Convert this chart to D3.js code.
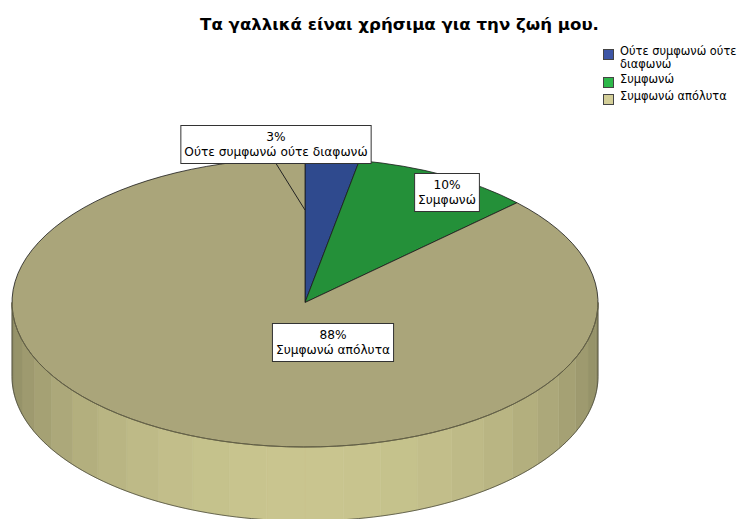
<!DOCTYPE html>
<html>
<head>
<meta charset="utf-8">
<script src="https://cdn.jsdelivr.net/npm/d3@7"></script>
<style>
  body { margin: 0; background: #fff; }
  svg { display: block; }
  text { font-family: "DejaVu Sans", Verdana, sans-serif; fill: #000; }
</style>
</head>
<body>
<svg id="chart" width="749" height="519"></svg>
<script>
// ---- data ----
const chartTitle = "Τα γαλλικά είναι χρήσιμα για την ζωή μου.";
const categories = ["Ούτε συμφωνώ ούτε διαφωνώ", "Συμφωνώ", "Συμφωνώ απόλυτα"];
const values = [3, 10, 88];
const valueLabels = ["3%", "10%", "88%"];
const legendLines = [["Ούτε συμφωνώ ούτε", "διαφωνώ"], ["Συμφωνώ"], ["Συμφωνώ απόλυτα"]];

// ---- styling ----
const legendColors = ["#3d55a5", "#2db84a", "#d3ce98"];
const topColors = ["#2f4a8e", "#249039", "#aaa57a"];
const sideDark = ["#24386c", "#1b6a2b", "#8c8962"];
const sideLight = ["#3b5aa8", "#2fae4a", "#c9c58f"];

const W = 749, H = 519;
const cx = 305, cy = 302.5, rx = 293, ry = 144.5, depth = 74;

// label boxes placed relative to the pie centre
const labelOffset = [[-29, -158], [142, -110], [28, 40]];
const leaderFraction = 0.64;

const svg = d3.select("#chart");

// title
svg.append("text")
  .attr("x", 399.5).attr("y", 30)
  .attr("text-anchor", "middle")
  .style("font-weight", "bold")
  .style("font-size", "16.6px")
  .text(chartTitle);

const pie = d3.pie().sort(null).value(d => d);
const arcs = pie(values);

const px = a => cx + rx * Math.sin(a);
const py = a => cy - ry * Math.cos(a);

// ---- side wall (front half only is visible) ----
const wall = svg.append("g");
const facet = Math.PI / 24;
arcs.forEach((d, i) => {
  const a0 = Math.max(d.startAngle, Math.PI / 2);
  const a1 = Math.min(d.endAngle, 3 * Math.PI / 2);
  if (a1 <= a0) return;
  const shade = d3.interpolateRgb(sideDark[i], sideLight[i]);
  // facet boundaries snapped to a fixed grid so shading bands are regular
  const edges = [a0];
  let k = Math.ceil(a0 / facet) * facet;
  if (k - a0 < 1e-6) k += facet;
  for (; k < a1 - 1e-6; k += facet) edges.push(k);
  edges.push(a1);
  for (let j = 0; j < edges.length - 1; j++) {
    const e0 = edges[j], e1 = edges[j + 1];
    const steps = 6;
    const topPts = d3.range(steps + 1).map(s => {
      const a = e0 + (e1 - e0) * s / steps;
      return [px(a), py(a)];
    });
    const botPts = topPts.slice().reverse().map(p => [p[0], p[1] + depth]);
    const mid = (e0 + e1) / 2;
    const t = Math.max(0, Math.cos(mid - Math.PI));
    const c = shade(Math.pow(t, 1.1));
    wall.append("path")
      .attr("d", d3.line()(topPts.concat(botPts)) + "Z")
      .attr("fill", c)
      .attr("stroke", c)
      .attr("stroke-width", 0.6);
  }
  // outline of the wall
  const n = 120;
  const bottom = d3.range(n + 1).map(s => {
    const a = a0 + (a1 - a0) * s / n;
    return [px(a), py(a) + depth];
  });
  const outline = [[px(a0), py(a0)]].concat(bottom, [[px(a1), py(a1)]]);
  wall.append("path")
    .attr("d", d3.line()(outline))
    .attr("fill", "none")
    .attr("stroke", "#3a3a2e")
    .attr("stroke-width", 0.7);
});

// ---- top face ----
const arcGen = d3.arc().innerRadius(0).outerRadius(rx);
const topFace = svg.append("g")
  .attr("transform", `translate(${cx},${cy}) scale(1,${ry / rx})`);
topFace.selectAll("path")
  .data(arcs)
  .join("path")
  .attr("d", arcGen)
  .attr("fill", (d, i) => topColors[i])
  .attr("stroke", "#1a1a1a")
  .attr("stroke-width", 0.8)
  .attr("vector-effect", "non-scaling-stroke");

// soft rim line where the top meets the wall
const rim = d3.range(121).map(s => {
  const a = Math.PI / 2 + Math.PI * s / 120;
  return [px(a), py(a)];
});
svg.append("path")
  .attr("d", d3.line()(rim))
  .attr("fill", "none")
  .attr("stroke", "#77734f")
  .attr("stroke-width", 0.7);

// ---- value labels ----
const labels = svg.append("g").style("font-size", "12.2px");
arcs.forEach((d, i) => {
  const lx = cx + labelOffset[i][0], ly = cy + labelOffset[i][1];
  const g = labels.append("g");
  const lines = [valueLabels[i], categories[i]];
  const txt = g.append("text").attr("text-anchor", "middle");
  lines.forEach((s, j) => {
    txt.append("tspan").attr("x", lx).attr("y", ly + j * 15).text(s);
  });
  const bb = txt.node().getBBox();
  const boxW = bb.width + 7, boxH = 38;
  const bx = lx - boxW / 2, by = ly - boxH / 2;
  if (i === 0) {
    // leader line from the box to the slice edge
    const a = d.startAngle;
    g.append("line")
      .attr("x1", lx).attr("y1", by + boxH)
      .attr("x2", cx + leaderFraction * rx * Math.sin(a))
      .attr("y2", cy - leaderFraction * ry * Math.cos(a))
      .attr("stroke", "#222").attr("stroke-width", 1);
  }
  g.append("rect")
    .attr("x", bx).attr("y", by)
    .attr("width", boxW).attr("height", boxH)
    .attr("fill", "#fff")
    .attr("stroke", "#333").attr("stroke-width", 1);
  txt.raise();
  txt.selectAll("tspan").attr("y", (s, j) => by + 15 + j * 15);
});

// ---- legend ----
const legend = svg.append("g").style("font-size", "11.4px");
const rowY = [48, 76, 93];
legendLines.forEach((ls, i) => {
  legend.append("rect")
    .attr("x", 603.5).attr("y", rowY[i] + 1.5)
    .attr("width", 10).attr("height", 10)
    .attr("fill", legendColors[i])
    .attr("stroke", "#444").attr("stroke-width", 1);
  const t = legend.append("text");
  ls.forEach((s, j) => {
    t.append("tspan")
      .attr("x", 620).attr("y", rowY[i] + 7 + j * 13)
      .text(s);
  });
});
</script>
</body>
</html>
